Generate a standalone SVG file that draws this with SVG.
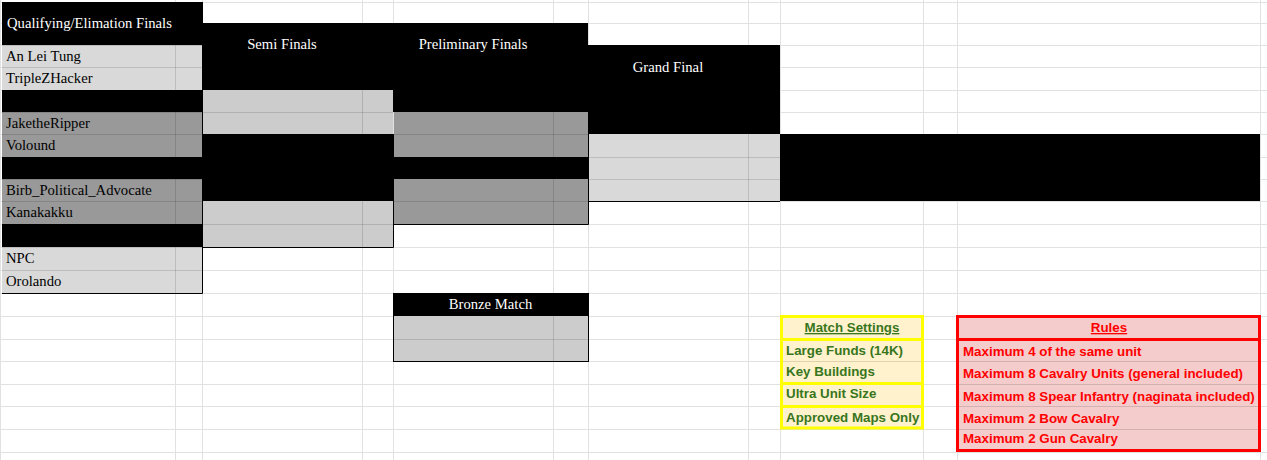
<svg xmlns="http://www.w3.org/2000/svg" width="1267" height="460" viewBox="0 0 1267 460">
<style>
.grid{stroke:#e1e1e1;stroke-width:1;fill:none}
.ig{stroke:#000;stroke-opacity:0.13;stroke-width:1;fill:none}
.bd{stroke:#000;stroke-width:1;fill:none}
.blk{fill:#000}
.lg{fill:#d9d9d9}
.mg{fill:#cccccc}
.dg{fill:#999999}
.hd{font-family:"Liberation Serif","Times New Roman",serif;font-size:14.67px;fill:#fff}
.nm{font-family:"Liberation Serif","Times New Roman",serif;font-size:14.67px;fill:#000}
.ms{font-family:"Liberation Sans",Arial,sans-serif;font-size:13.33px;font-weight:bold;fill:#38761d}
.ru{font-family:"Liberation Sans",Arial,sans-serif;font-size:13.33px;font-weight:bold;fill:#ff0000}
.ybox{fill:none;stroke:#ffff00;stroke-width:3}
.rbox{fill:none;stroke:#ff0000;stroke-width:3}
</style>
<rect x="0" y="0" width="1267" height="460" fill="#fff"/>
<g id="gridlines" class="grid">
<path d="M0.5,0V460M175.5,0V460M202.5,0V460M362.5,0V460M393.5,0V460M553.5,0V460M588.5,0V460M748.5,0V460M780.5,0V460M923.5,0V460M957.5,0V460M1260.5,0V460"/>
<path d="M0,2.5H1267M0,23.5H1267M0,45.5H1267M0,67.5H1267M0,90.5H1267M0,112.5H1267M0,134.5H1267M0,157.5H1267M0,179.5H1267M0,201.5H1267M0,224.5H1267M0,247.5H1267M0,270.5H1267M0,293.5H1267M0,316.5H1267M0,339.5H1267M0,361.5H1267M0,384.5H1267M0,406.5H1267M0,429.5H1267M0,452.5H1267"/>
</g>
<g id="connectors"></g>
<g id="qualifying">
<rect class="blk" x="2" y="2" width="200" height="43"/>
<rect class="lg" x="2" y="45" width="200" height="45"/>
<rect class="blk" x="2" y="90" width="200" height="22"/>
<rect class="dg" x="2" y="112" width="200" height="45"/>
<rect class="blk" x="2" y="157" width="200" height="22"/>
<rect class="dg" x="2" y="179" width="200" height="45"/>
<rect class="blk" x="2" y="224" width="200" height="23"/>
<rect class="lg" x="2" y="247" width="200" height="46"/>
<path class="ig" d="M175.5,45V293M2,45.5H202M2,67.5H202M2,90.5H202M2,112.5H202M2,134.5H202M2,157.5H202M2,179.5H202M2,201.5H202M2,224.5H202M2,247.5H202M2,270.5H202"/>
<path class="bd" d="M202.5,2V293.5H2"/>
<text class="hd" x="7" y="28">Qualifying/Elimation Finals</text>
<text class="nm" x="6" y="61">An Lei Tung</text>
<text class="nm" x="6" y="83">TripleZHacker</text>
<text class="nm" x="6" y="128">JaketheRipper</text>
<text class="nm" x="6" y="150">Volound</text>
<text class="nm" x="6" y="195">Birb_Political_Advocate</text>
<text class="nm" x="6" y="217">Kanakakku</text>
<text class="nm" x="6" y="263">NPC</text>
<text class="nm" x="6" y="286">Orolando</text>
</g>
<g id="semi-finals">
<rect class="blk" x="202" y="23" width="191" height="67"/>
<rect class="mg" x="203" y="90" width="190" height="44"/>
<rect class="blk" x="202" y="134" width="191" height="67"/>
<rect class="mg" x="203" y="201" width="190" height="46"/>
<path class="ig" d="M362.5,90V134M362.5,201V247M203,112.5H393M203,224.5H393"/>
<path class="bd" d="M393.5,134V247.5H202"/>
<text class="hd" x="282" y="49" text-anchor="middle">Semi Finals</text>
</g>
<g id="preliminary-finals">
<rect class="blk" x="393" y="23" width="195" height="89"/>
<rect class="dg" x="394" y="112" width="194" height="45"/>
<rect class="blk" x="393" y="157" width="195" height="22"/>
<rect class="dg" x="394" y="179" width="194" height="45"/>
<path class="ig" d="M553.5,112V157M553.5,179V224M394,134.5H588M394,201.5H588"/>
<path class="bd" d="M588.5,112V224.5H393"/>
<text class="hd" x="473" y="49" text-anchor="middle">Preliminary Finals</text>
</g>
<g id="grand-final">
<rect class="blk" x="588" y="45" width="192" height="89"/>
<rect class="lg" x="589" y="134" width="191" height="67"/>
<path class="ig" d="M748.5,134V201M589,157.5H780M589,179.5H780"/>
<path class="bd" d="M588,201.5H780"/>
<text class="hd" x="668" y="72" text-anchor="middle">Grand Final</text>
</g>
<g id="champion">
<rect class="blk" x="780" y="134" width="480" height="67"/>
</g>
<g id="bronze-match">
<rect class="blk" x="393" y="293" width="195" height="23"/>
<rect class="mg" x="394" y="316" width="194" height="45"/>
<path class="ig" d="M553.5,316V361M394,339.5H588"/>
<rect class="bd" x="393.5" y="293.5" width="195" height="68"/>
<text class="hd" x="490.5" y="309" text-anchor="middle">Bronze Match</text>
</g>
<g id="match-settings">
<rect x="780" y="315" width="144" height="114" fill="#fff2cc"/>
<path class="ig" d="M783,361.5H921"/>
<rect class="ybox" x="781.5" y="316.5" width="141" height="23"/>
<rect class="ybox" x="781.5" y="339.5" width="141" height="44"/>
<rect class="ybox" x="781.5" y="383.5" width="141" height="23"/>
<rect class="ybox" x="781.5" y="406.5" width="141" height="21.5"/>
<text class="ms" x="852" y="332" text-anchor="middle" text-decoration="underline">Match Settings</text>
<text class="ms" x="786" y="355">Large Funds (14K)</text>
<text class="ms" x="786" y="376">Key Buildings</text>
<text class="ms" x="786" y="398">Ultra Unit Size</text>
<text class="ms" x="786" y="422">Approved Maps Only</text>
</g>
<g id="rules">
<rect x="956" y="315" width="305" height="137" fill="#f4cccc"/>
<path class="ig" d="M959,361.5H1258M959,384.5H1258M959,406.5H1258M959,429.5H1258"/>
<rect class="rbox" x="957.5" y="316.5" width="302" height="134"/>
<path class="rbox" d="M957,339.5H1260"/>
<text class="ru" x="1109" y="332" text-anchor="middle" text-decoration="underline">Rules</text>
<text class="ru" x="963" y="356">Maximum 4 of the same unit</text>
<text class="ru" x="963" y="378">Maximum 8 Cavalry Units (general included)</text>
<text class="ru" x="963" y="401">Maximum 8 Spear Infantry (naginata included)</text>
<text class="ru" x="963" y="423">Maximum 2 Bow Cavalry</text>
<text class="ru" x="963" y="443">Maximum 2 Gun Cavalry</text>
</g>
</svg>
